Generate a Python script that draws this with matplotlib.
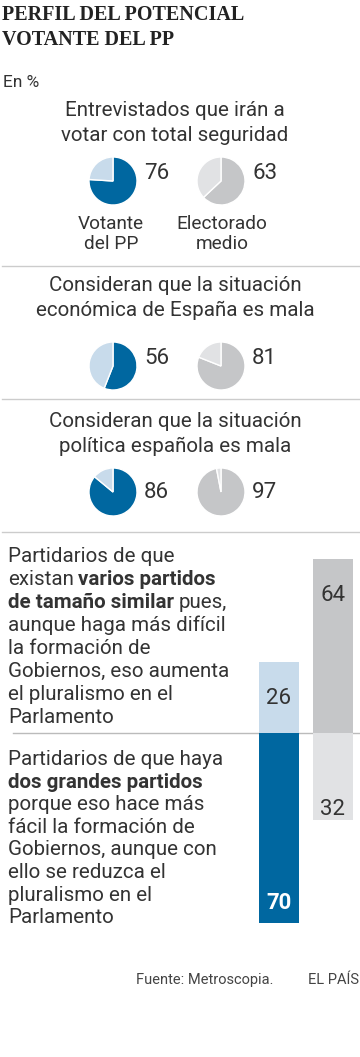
import matplotlib.pyplot as plt

# datos
preguntas = [
    ["Entrevistados que irán a", "votar con total seguridad"],
    ["Consideran que la situación", "económica de España es mala"],
    ["Consideran que la situación", "política española es mala"],
]
votante_pp = [76, 56, 86]
electorado_medio = [63, 81, 97]
grupos = ["Votante\ndel PP", "Electorado\nmedio"]

varios_partidos = [26, 64]   # votante PP, electorado medio
dos_grandes = [70, 32]

texto_varios = [
    [("Partidarios de que", "normal")],
    [("existan ", "normal"), ("varios partidos", "bold")],
    [("de tamaño similar", "bold"), (" pues,", "normal")],
    [("aunque haga más difícil", "normal")],
    [("la formación de", "normal")],
    [("Gobiernos, eso aumenta", "normal")],
    [("el pluralismo en el", "normal")],
    [("Parlamento", "normal")],
]
texto_dos = [
    [("Partidarios de que haya", "normal")],
    [("dos grandes partidos", "bold")],
    [("porque eso hace más", "normal")],
    [("fácil la formación de", "normal")],
    [("Gobiernos, aunque con", "normal")],
    [("ello se reduzca el", "normal")],
    [("pluralismo en el", "normal")],
    [("Parlamento", "normal")],
]

AZUL = "#0067a0"
AZUL_CLARO = "#c8dbeb"
GRIS = "#c5c6c8"
GRIS_CLARO = "#e1e2e4"
TXT = "#333333"
SANS = "Roboto"

W, H = 360, 1057
fig = plt.figure(figsize=(W / 100, H / 100), dpi=100)
bg = fig.add_axes([0, 0, 1, 1])
bg.set_xlim(0, W)
bg.set_ylim(H, 0)
bg.axis("off")


def px_axes(x0, y0, w, h):
    return fig.add_axes([x0 / W, 1 - (y0 + h) / H, w / W, h / H])


# titulo
bg.text(2, 20, "PERFIL DEL POTENCIAL", family="Liberation Serif", weight="bold",
        size=14.5, color="#222222", va="baseline")
bg.text(2, 45, "VOTANTE DEL PP", family="Liberation Serif", weight="bold",
        size=14.5, color="#222222", va="baseline")
bg.text(3, 87, "En %", family=SANS, size=12.5, color=TXT, va="baseline")

# secciones con tartas
q_base = [116, 291, 427]
pie_cy = [181, 366, 492]
num_base = [179, 364, 498]
seps = [266, 399, 532]
pie_cx = [113, 221]
R = 24

for i, q in enumerate(preguntas):
    for j, line in enumerate(q):
        bg.text(175, q_base[i] + j * 25, line, family=SANS, size=14.8, color=TXT,
                ha="center", va="baseline")
    vals = [votante_pp[i], electorado_medio[i]]
    cols = [(AZUL, AZUL_CLARO), (GRIS, GRIS_CLARO)]
    for k in range(2):
        ax = px_axes(pie_cx[k] - 26, pie_cy[i] - 26, 52, 52)
        ax.pie([vals[k], 100 - vals[k]], colors=cols[k], startangle=90,
               counterclock=False, radius=1,
               wedgeprops=dict(edgecolor="white", linewidth=1))
        ax.set_xlim(-26 / R, 26 / R)
        ax.set_ylim(-26 / R, 26 / R)
        ax.axis("off")
        bg.text(pie_cx[k] + 31, num_base[i], str(vals[k]), family=SANS, size=16,
                color=TXT, va="baseline")
    bg.plot([2, 360], [seps[i], seps[i]], color="#cccccc", lw=1)

for k, g in enumerate(grupos):
    for j, line in enumerate(g.split("\n")):
        bg.text(pie_cx[k] - 2 + k * 3, 229 + j * 20, line, family=SANS, size=13.7,
                color=TXT, ha="center", va="baseline")

# bloques de texto con negritas
renderer = fig.canvas.get_renderer()


def rich_lines(lines, y0, step, size=14.8):
    for n, parts in enumerate(lines):
        x = 8
        y = y0 + n * step
        for txt, w in parts:
            if txt.startswith(" "):
                x += 4.5
            t = bg.text(x, y, txt.strip(), family=SANS, size=size, weight=w,
                        color=TXT, va="baseline")
            x += t.get_window_extent(renderer).width
            if txt.endswith(" "):
                x += 4.5


rich_lines(texto_varios, 562, 23)
rich_lines(texto_dos, 765, 22.6)

# barras
ZERO = 733
SC = 2.72
bg.plot([13, 360], [ZERO, ZERO], color="#bbbbbb", lw=1)
axb = px_axes(250, 540, 110, 390)
axb.set_xlim(250, 360)
axb.set_ylim(-(930 - ZERO) / SC, (ZERO - 540) / SC)
axb.axis("off")
xs = [279, 332.5]
axb.bar(xs, varios_partidos, width=40, color=[AZUL_CLARO, GRIS])
axb.bar(xs, [-v for v in dos_grandes], width=40, color=[AZUL, GRIS_CLARO])
for k in range(2):
    axb.annotate(str(varios_partidos[k]), (xs[k], varios_partidos[k]),
                 xytext=(0, -42), textcoords="offset pixels", ha="center",
                 va="baseline", family=SANS, size=16, color=TXT)
axb.annotate(str(dos_grandes[0]), (xs[0], -dos_grandes[0]),
             xytext=(0, 14), textcoords="offset pixels", ha="center",
             va="baseline", family=SANS, size=16, weight="bold", color="white")
axb.annotate(str(dos_grandes[1]), (xs[1], -dos_grandes[1]),
             xytext=(0, 5), textcoords="offset pixels", ha="center",
             va="baseline", family=SANS, size=16, color=TXT)

# pie
bg.text(136, 984, "Fuente: Metroscopia.", family=SANS, size=10.5, color="#444444",
        va="baseline")
bg.text(308, 984, "EL PAÍS", family=SANS, size=10.5, color="#444444",
        va="baseline", clip_on=False)

fig.savefig("out.png", dpi=100)
